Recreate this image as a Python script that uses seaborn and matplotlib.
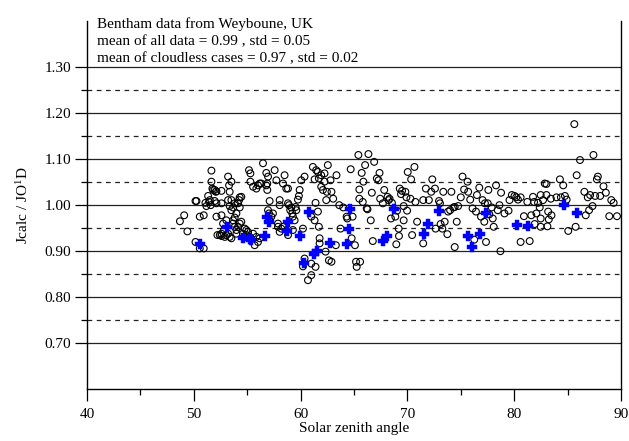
import numpy as np
import pandas as pd
import matplotlib
matplotlib.use("Agg")
import matplotlib.pyplot as plt
import seaborn as sns
from matplotlib.ticker import FixedLocator

# ---- data: all cases (open circles) ----
all_sza = [
    48.7, 49.1, 49.4, 50.16, 50.25, 50.16, 50.56, 50.93, 50.56, 50.93,
    51.34, 51.5, 51.65, 51.65, 51.74, 51.81, 51.96, 52.06, 52.12, 51.18,
    51.09, 51.43, 51.59, 51.96, 52.12, 52.59, 52.59, 52.12, 52.59, 52.21,
    52.43, 52.59, 52.83, 52.74, 53.05, 53.21, 53.3, 53.36, 53.52, 53.52,
    53.21, 53.36, 53.52, 53.68, 53.83, 54.14, 54.24, 54.3, 54.45, 54.3,
    53.99, 53.83, 53.68, 53.68, 53.83, 53.99, 54.14, 54.3, 54.45, 53.99,
    53.52, 53.36, 53.21, 53.05, 52.9, 52.59, 54.77, 54.92, 55.08, 54.61,
    54.92, 55.23, 55.55, 55.86, 55.7, 56.01, 56.17, 55.17, 55.3, 55.3,
    55.55, 55.86, 56.01, 56.17, 56.32, 56.48, 56.79, 56.95, 56.88, 56.79,
    56.88, 57.1, 56.95, 57.04, 57.1, 57.26, 57.41, 57.57, 57.73, 58.04,
    58.04, 58.35, 58.5, 58.66, 58.82, 58.82, 58.91, 59.03, 59.13, 59.22,
    59.28, 59.44, 59.53, 59.6, 58.35, 57.88, 57.88, 58.04, 58.19, 58.82,
    59.28, 59.75, 59.84, 59.91, 60.06, 60.22, 60.37, 60.37, 60.22, 60.69,
    61.0, 61.0, 61.31, 61.0, 61.4, 61.15, 61.46, 61.31, 61.62, 61.71,
    61.93, 61.93, 62.09, 62.24, 62.24, 62.4, 62.46, 61.4, 61.62, 61.71,
    61.78, 61.78, 62.34, 62.55, 62.65,
    62.8, 62.89, 62.89, 63.05, 63.3, 63.36, 63.62, 63.74, 63.99, 64.31,
    64.37, 64.69, 64.78, 64.87, 65.09, 65.19, 65.25, 65.41, 65.5, 65.5,
    65.57, 65.72, 65.82, 65.88, 66.04, 66.19, 66.26, 66.35, 66.57, 66.67,
    66.76, 66.89, 67.14, 67.3, 67.39, 67.45, 67.7, 67.83, 68.14, 68.24,
    68.33, 68.46, 68.55, 68.87, 68.96, 69.03, 69.18, 69.21, 69.28, 69.4,
    69.5, 69.65, 69.65, 69.81, 69.91, 69.97, 70.03, 70.28, 70.35, 70.44,
    70.66, 70.75, 70.91, 71.48, 71.48, 71.73, 72.01, 72.23, 72.33, 72.58,
    72.64, 72.96, 73.05, 73.11, 73.27, 73.36, 73.49, 73.74, 73.81, 74.0,
    74.12, 74.31, 74.43, 74.43, 74.62, 74.75, 75.0, 75.16, 75.31, 75.63,
    75.69, 75.88, 76.1, 76.26, 76.42, 76.51, 76.73, 76.89, 77.04, 77.2,
    77.26, 77.36, 77.52, 77.58, 77.67, 77.89, 77.99, 78.08, 78.3, 78.46,
    78.62, 78.71, 78.77, 79.09, 79.47, 79.56, 79.78, 80.03, 80.19, 80.35,
    80.6, 80.6, 80.91, 81.23, 81.45, 81.6, 81.76, 81.86, 81.92, 82.08,
    82.23, 82.39, 82.48, 82.48, 82.48, 82.7, 82.86, 83.02, 83.02, 83.11,
    83.18, 83.24, 83.43, 83.49, 83.96, 84.28, 84.37, 84.59, 84.75, 84.91,
    85.06, 85.63, 85.75, 85.85, 86.16, 86.57, 86.7, 86.89, 87.01, 87.11,
    87.33, 87.42, 87.58, 87.74, 87.83, 88.05, 88.36, 88.58, 88.9, 89.09,
    89.31, 89.62,
]
all_ratio = [
    0.965, 0.978, 0.943, 1.009, 1.009, 0.920, 0.906, 0.906, 0.975, 0.978,
    1.020, 1.011, 1.075, 1.051, 1.036, 1.033, 1.033, 1.029, 1.030, 0.998,
    1.005, 1.007, 1.000, 1.009, 1.004, 1.031, 1.004, 0.975, 0.978, 0.935,
    0.935, 0.938, 0.946, 0.960, 0.967, 1.062, 1.043, 1.029, 1.051, 1.011,
    1.011, 0.998, 0.989, 0.995, 1.004, 1.004, 1.011, 1.017, 1.018, 0.995,
    0.982, 0.973, 0.967, 0.960, 0.953, 0.946, 0.953, 0.960, 0.964, 0.938,
    0.928, 0.931, 0.938, 0.935, 0.931, 0.933, 0.949, 0.946, 0.942, 0.938,
    0.935, 0.931, 0.938, 0.931, 0.913, 0.920, 0.928, 1.076, 1.069, 1.051,
    1.040, 1.036, 1.043, 1.047, 1.047, 1.091, 1.070, 1.062, 1.047, 1.043,
    1.033, 1.009, 0.989, 0.982, 0.967, 0.975, 0.982, 1.076, 1.054, 1.011,
    1.000, 1.047, 1.065, 1.036, 1.036, 1.004, 1.000, 0.989, 0.995, 0.982,
    0.975, 0.967, 0.996, 0.989, 0.953, 0.960, 0.953, 0.942, 0.949, 0.935,
    0.946, 1.012, 1.020, 1.033, 1.054, 0.949, 1.062, 0.884, 0.867, 0.837,
    0.848, 0.975, 0.967, 0.873, 0.866, 1.083, 1.076, 1.056, 1.072, 1.058,
    1.065, 1.040, 1.033, 1.051, 1.069, 1.011, 1.029, 1.005, 0.986, 0.953,
    0.928, 0.917, 0.899, 1.087, 0.880,
    1.054, 1.029, 0.877, 1.014, 0.913, 1.065, 1.000, 0.949, 0.995, 0.975,
    0.971, 1.078, 0.928, 0.975, 0.913, 0.877, 0.866, 1.109, 1.034, 1.014,
    0.877, 1.070, 1.007, 1.051, 1.087, 0.993, 0.991, 1.111, 0.967, 1.027,
    0.922, 1.094, 1.058, 1.054, 1.070, 1.014, 1.004, 1.033, 1.018, 1.011,
    1.014, 0.971, 1.005, 0.975, 0.915, 0.988, 0.949, 0.933, 1.036, 1.024,
    1.031, 0.967, 0.998, 1.029, 1.017, 0.988, 1.072, 1.014, 1.056, 0.935,
    1.083, 1.007, 0.964, 0.917, 1.011, 1.036, 1.011, 1.029, 1.056, 1.036,
    0.949, 1.009, 1.004, 0.959, 0.949, 1.029, 0.964, 0.937, 0.986, 0.989,
    1.029, 0.995, 0.996, 0.909, 0.964, 0.998, 1.017, 1.062, 1.034, 1.051,
    1.029, 1.012, 0.993, 0.925, 0.986, 1.022, 1.038, 0.975, 1.011, 0.964,
    1.004, 0.920, 1.004, 1.033, 0.980, 0.995, 0.971, 0.953, 1.043, 0.989,
    1.000, 0.900, 1.027, 0.982, 0.988, 1.011, 1.022, 1.020, 1.017, 1.012,
    1.017, 0.920, 0.976, 1.007, 0.922, 0.978, 1.018, 1.007, 0.959, 0.982,
    1.005, 0.995, 1.022, 0.971, 0.953, 1.011, 1.047, 1.046, 1.022, 0.954,
    0.986, 0.969, 1.014, 0.978, 1.017, 1.056, 1.017, 1.043, 1.020, 1.012,
    0.944, 1.176, 0.953, 1.065, 1.098, 1.029, 0.978, 1.017, 0.989, 1.022,
    0.998, 1.109, 1.020, 1.056, 1.062, 1.020, 1.041, 1.027, 0.976, 1.011,
    1.005, 0.976,
]

# ---- data: cloudless cases (blue crosses) ----
clear_sza = [
    50.58, 53.07, 54.64, 55.26, 55.4, 56.82, 57.07, 56.67, 58.85, 58.69,
    59.94, 60.35, 60.82, 61.25, 61.5, 62.72, 64.31, 64.56, 64.63, 67.74,
    68.05, 68.75, 71.55, 71.89, 72.98, 75.64, 76.01, 76.8, 77.36, 80.29,
    81.32, 84.66, 85.85,
]
clear_ratio = [
    0.915, 0.952, 0.929, 0.927, 0.925, 0.974, 0.963, 0.934, 0.963, 0.943,
    0.934, 0.874, 0.986, 0.894, 0.901, 0.917, 0.915, 0.949, 0.992, 0.923,
    0.934, 0.992, 0.938, 0.960, 0.987, 0.934, 0.910, 0.938, 0.983, 0.957,
    0.954, 1.000, 0.983,
]

x_major = [40, 50, 60, 70, 80, 90]
x_minor = [45, 55, 65, 75, 85]
y_major = [0.70, 0.80, 0.90, 1.00, 1.10, 1.20, 1.30]
y_minor = [0.75, 0.85, 0.95, 1.05, 1.15, 1.25]

info_lines = [
    "Bentham data from Weyboune, UK",
    "mean of all data = 0.99 , std = 0.05",
    "mean of cloudless cases = 0.97 , std = 0.02",
]

df_all = pd.DataFrame({"sza": all_sza, "ratio": all_ratio})
df_clear = pd.DataFrame({"sza": clear_sza, "ratio": clear_ratio})

sns.set_theme(style="white")
plt.rcParams["font.family"] = ["Liberation Serif", "DejaVu Serif"]
plt.rcParams["mathtext.fontset"] = "custom"
plt.rcParams["mathtext.rm"] = "Liberation Serif"
plt.rcParams["mathtext.it"] = "Liberation Serif:italic"

fig = plt.figure(figsize=(6.29, 4.41), dpi=100)
ax = fig.add_axes([87 / 629, 1 - 389.3 / 441, 534 / 629, 368.3 / 441])

sns.scatterplot(data=df_all, x="sza", y="ratio", ax=ax, marker="o",
                s=24, facecolors="none", edgecolor="black", linewidth=0.8,
                zorder=3, legend=False)
sns.scatterplot(data=df_clear, x="sza", y="ratio", ax=ax, marker="P",
                s=45, color="#0000ff", edgecolor="#0000ff", linewidth=0.3,
                zorder=4, legend=False)

ax.set_xlim(40, 90)
ax.set_ylim(0.60, 1.40)
ax.xaxis.set_major_locator(FixedLocator(x_major))
ax.xaxis.set_minor_locator(FixedLocator(x_minor))
ax.yaxis.set_major_locator(FixedLocator(y_major))
ax.yaxis.set_minor_locator(FixedLocator(y_minor))
ax.set_xticklabels([str(v) for v in x_major])
ax.set_yticklabels([f"{v:.2f}" for v in y_major])

ax.set_axisbelow(True)
ax.grid(True, which="major", axis="y", color="#222222", linestyle="-", linewidth=0.9)
ax.grid(True, which="minor", axis="y", color="#222222", linestyle=(0, (3.8, 3.6)), linewidth=0.9)
ax.grid(False, axis="x", which="both")

for side in ["left", "bottom", "right"]:
    ax.spines[side].set_visible(True)
    ax.spines[side].set_color("black")
    ax.spines[side].set_linewidth(1.0)
ax.spines["top"].set_visible(False)

ax.tick_params(axis="both", which="major", direction="out", length=8.5, width=0.9,
               color="black", labelsize=11, labelcolor="black", left=True, bottom=True)
ax.tick_params(axis="both", which="minor", direction="out", length=4.2, width=0.9,
               color="black", left=True, bottom=True)
ax.tick_params(axis="x", which="major", pad=5)
ax.tick_params(axis="y", which="major", pad=3)

ax.set_xlabel("Solar zenith angle", fontsize=11, color="black", labelpad=1)
ax.set_ylabel("Jcalc / JO$^{1}$D", fontsize=11, color="black", labelpad=10)

for i, line in enumerate(info_lines):
    fig.text(97 / 629, 1 - (28 + 17 * i) / 441, line, fontsize=11,
             color="black", va="baseline", ha="left")

fig.savefig("out.png", dpi=100)
